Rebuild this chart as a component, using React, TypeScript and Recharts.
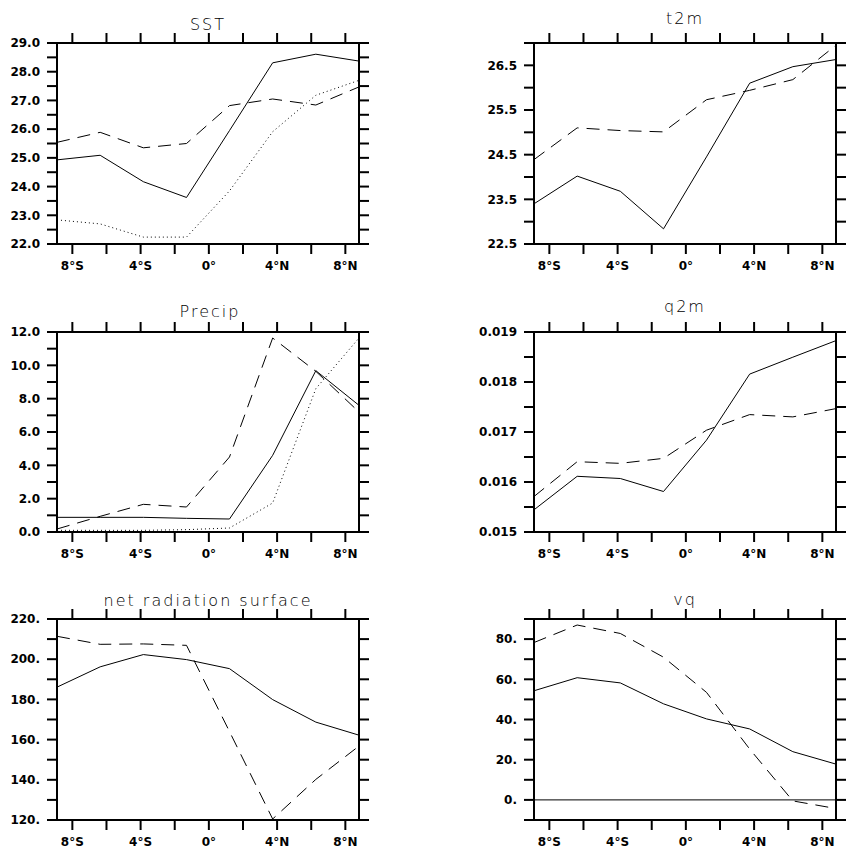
import React from 'react'
import { LineChart, Line, XAxis, YAxis, ReferenceLine } from 'recharts'

// latitudes of the 8 grid points (deg, negative = south)
const lats = [-8.9, -6.37, -3.84, -1.31, 1.21, 3.74, 6.27, 8.8]
const latTicks = [-8, -6, -4, -2, 0, 2, 4, 6, 8]
const latLabels = ['8°S', '', '4°S', '', '0°', '', '4°N', '', '8°N']

const sstSolid = [24.93, 25.09, 24.17, 23.62, 25.95, 28.31, 28.61, 28.37]
const sstDashed = [25.54, 25.89, 25.35, 25.5, 26.82, 27.05, 26.84, 27.47]
const sstDotted = [22.84, 22.7, 22.24, 22.24, 23.85, 25.91, 27.18, 27.7]
const sstTicks = [22, 22.5, 23, 23.5, 24, 24.5, 25, 25.5, 26, 26.5, 27, 27.5, 28, 28.5, 29]
const sstLabels = ['22.0', '', '23.0', '', '24.0', '', '25.0', '', '26.0', '', '27.0', '', '28.0', '', '29.0']

const t2mSolid = [23.4, 24.02, 23.68, 22.84, 24.45, 26.1, 26.47, 26.63]
const t2mDashed = [24.39, 25.1, 25.04, 25.01, 25.73, 25.94, 26.18, 26.95]
const t2mTicks = [22.5, 23, 23.5, 24, 24.5, 25, 25.5, 26, 26.5, 27]
const t2mLabels = ['22.5', '', '23.5', '', '24.5', '', '25.5', '', '26.5', '']

const preSolid = [0.88, 0.88, 0.88, 0.82, 0.78, 4.6, 9.68, 7.6]
const preDashed = [0.18, 0.94, 1.66, 1.5, 4.5, 11.64, 9.64, 7.2]
const preDotted = [0.1, 0.1, 0.1, 0.14, 0.24, 1.74, 8.6, 11.64]
const preTicks = [0, 1, 2, 3, 4, 5, 6, 7, 8, 9, 10, 11, 12]
const preLabels = ['0.0', '', '2.0', '', '4.0', '', '6.0', '', '8.0', '', '10.0', '', '12.0']

const q2mSolid = [0.015444, 0.016114, 0.01607, 0.01581, 0.016837, 0.018158, 0.018496, 0.018828]
const q2mDashed = [0.01571, 0.016406, 0.016373, 0.016473, 0.017036, 0.017348, 0.017302, 0.017468]
const q2mTicks = [0.015, 0.0155, 0.016, 0.0165, 0.017, 0.0175, 0.018, 0.0185, 0.019]
const q2mLabels = ['0.015', '', '0.016', '', '0.017', '', '0.018', '', '0.019']

const netSolid = [186.1, 196.2, 202.3, 199.8, 195.3, 179.9, 168.7, 162.2]
const netDashed = [211.4, 207.4, 207.6, 206.9, 164, 120.5, 140.2, 156.8]
const netTicks = [120, 130, 140, 150, 160, 170, 180, 190, 200, 210, 220]
const netLabels = ['120.', '', '140.', '', '160.', '', '180.', '', '200.', '', '220.']

const vqSolid = [54.3, 60.8, 58.2, 47.8, 40.3, 35.3, 24, 17.8]
const vqDashed = [78.3, 87, 82.8, 71, 53.5, 25.3, -0.5, -4.3]
const vqTicks = [-10, 0, 10, 20, 30, 40, 50, 60, 70, 80, 90]
const vqLabels = ['', '0.', '', '20.', '', '40.', '', '60.', '', '80.', '']

const DASH = '13 8'
const DOT = '1 3'
const FONT = 'DejaVu Sans'

type Series = { values: number[]; dash?: string }

const lookup = (ticks: number[], labels: string[]) => (v: number) => {
  const i = ticks.findIndex(t => Math.abs(t - v) < 1e-9)
  return i >= 0 ? labels[i] : ''
}

const axisStroke = { stroke: '#000', strokeWidth: 2 }
const tickStyle = { fill: '#000', fontSize: 12, fontWeight: 700, fontFamily: FONT }

function Panel({ left, top, h, yTicks, yLabels, series, zero }: {
  left: number; top: number; h: number; yTicks: number[]; yLabels: string[]; series: Series[]; zero?: boolean
}) {
  const data = lats.map((lat, i) => {
    const row: Record<string, number> = { lat }
    series.forEach((s, k) => { row['s' + k] = s.values[i] })
    return row
  })
  const yDomain = [yTicks[0], yTicks[yTicks.length - 1]]
  return (
    <div style={{ position: 'absolute', left: left - 60, top: top - 45 }}>
      <LineChart width={372} height={45 + h + 30} data={data} margin={{ top: 33, right: 0, bottom: 0, left: 5 }}>
        <XAxis xAxisId="b" type="number" dataKey="lat" domain={[-8.9, 8.8]} allowDataOverflow ticks={latTicks}
          interval={0} tickFormatter={lookup(latTicks, latLabels)} tickSize={10} tickMargin={7} height={30}
          axisLine={axisStroke} tickLine={axisStroke} tick={tickStyle} />
        <XAxis xAxisId="t" orientation="top" type="number" dataKey="lat" domain={[-8.9, 8.8]} allowDataOverflow
          ticks={latTicks} interval={0} tickFormatter={() => ''} tickSize={10} height={12}
          axisLine={axisStroke} tickLine={axisStroke} tick={tickStyle} />
        <YAxis yAxisId="l" type="number" domain={yDomain} allowDataOverflow ticks={yTicks} interval={0}
          tickFormatter={lookup(yTicks, yLabels)} tickSize={10} tickMargin={7} width={55}
          axisLine={axisStroke} tickLine={axisStroke} tick={tickStyle} />
        <YAxis yAxisId="r" orientation="right" type="number" domain={yDomain} allowDataOverflow ticks={yTicks}
          interval={0} tickFormatter={() => ''} tickSize={10} width={10}
          axisLine={axisStroke} tickLine={axisStroke} tick={tickStyle} />
        {zero && <ReferenceLine xAxisId="b" yAxisId="l" y={0} stroke="#000" strokeWidth={1} />}
        {series.map((s, k) => (
          <Line key={k} xAxisId="b" yAxisId="l" type="linear" dataKey={'s' + k} stroke="#000" strokeWidth={1}
            strokeDasharray={s.dash} dot={false} activeDot={false} isAnimationActive={false} />
        ))}
      </LineChart>
    </div>
  )
}

const titles = [
  { text: 'SST', x: 208, y: 29.5 },
  { text: 't2m', x: 685, y: 24 },
  { text: 'Precip', x: 210, y: 316.5 },
  { text: 'q2m', x: 685, y: 311.5 },
  { text: 'net radiation surface', x: 208, y: 605.5 },
  { text: 'vq', x: 685, y: 605 },
]

export default function App() {
  return (
    <div style={{ position: 'fixed', left: 0, top: 0, width: 846, height: 852, overflow: 'hidden', background: '#fff' }}>
      <Panel left={57} top={43} h={201} yTicks={sstTicks} yLabels={sstLabels}
        series={[{ values: sstSolid }, { values: sstDashed, dash: DASH }, { values: sstDotted, dash: DOT }]} />
      <Panel left={534} top={43} h={201} yTicks={t2mTicks} yLabels={t2mLabels}
        series={[{ values: t2mSolid }, { values: t2mDashed, dash: DASH }]} />
      <Panel left={57} top={332} h={200} yTicks={preTicks} yLabels={preLabels}
        series={[{ values: preSolid }, { values: preDashed, dash: DASH }, { values: preDotted, dash: DOT }]} />
      <Panel left={534} top={332} h={200} yTicks={q2mTicks} yLabels={q2mLabels}
        series={[{ values: q2mSolid }, { values: q2mDashed, dash: DASH }]} />
      <Panel left={57} top={619} h={201} yTicks={netTicks} yLabels={netLabels}
        series={[{ values: netSolid }, { values: netDashed, dash: DASH }]} />
      <Panel left={534} top={619} h={201} yTicks={vqTicks} yLabels={vqLabels} zero
        series={[{ values: vqSolid }, { values: vqDashed, dash: DASH }]} />
      <svg width={846} height={852} style={{ position: 'absolute', left: 0, top: 0, pointerEvents: 'none' }}>
        {titles.map(t => (
          <text key={t.text} x={t.x} y={t.y} textAnchor="middle" fontFamily={FONT} fontWeight={200}
            fontSize={16} letterSpacing={2} fill="#000">{t.text}</text>
        ))}
      </svg>
    </div>
  )
}
